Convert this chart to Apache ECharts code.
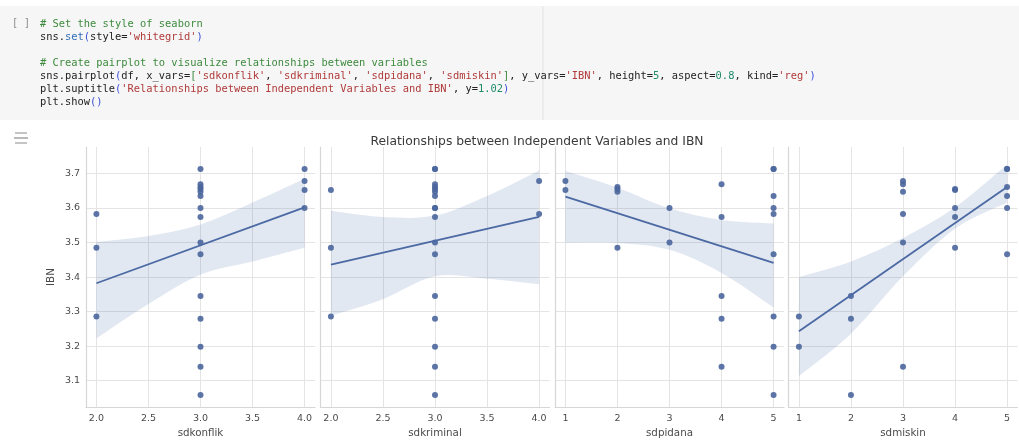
<!DOCTYPE html>
<html>
<head>
<meta charset="utf-8">
<script src="https://cdn.jsdelivr.net/npm/echarts@6/dist/echarts.min.js"></script>
<style>
  html, body { margin: 0; padding: 0; background: #ffffff; }
  #main { width: 1019px; height: 443px; }
</style>
</head>
<body>
<div id="main"></div>
<script>
// ---------------- data ----------------
const ibn        = [3.713, 3.713, 3.678, 3.669, 3.661, 3.655, 3.652, 3.647, 3.635, 3.600, 3.600,
                    3.583, 3.574, 3.500, 3.485, 3.466, 3.345, 3.286, 3.279, 3.198, 3.140, 3.058];
const sdkonflik  = [3, 4, 4, 3, 3, 3, 4, 3, 3, 4, 3, 2, 3, 3, 2, 3, 3, 2, 3, 3, 3, 3];
const sdkriminal = [3, 3, 4, 3, 3, 3, 2, 3, 3, 3, 3, 4, 3, 3, 2, 3, 3, 2, 3, 3, 3, 3];
const sdpidana   = [5, 5, 1, 4, 2, 2, 1, 2, 5, 3, 5, 5, 4, 3, 2, 5, 4, 5, 4, 5, 4, 5];
const sdmiskin   = [5, 5, 3, 3, 5, 4, 4, 3, 5, 4, 5, 3, 4, 3, 4, 5, 2, 1, 2, 1, 3, 2];

const varNames = ['sdkonflik', 'sdkriminal', 'sdpidana', 'sdmiskin'];
const yName = 'IBN';
const titleText = 'Relationships between Independent Variables and IBN';

// tick labels
const xTicksA = [2.0, 2.5, 3.0, 3.5, 4.0];
const xTicksB = [1, 2, 3, 4, 5];
const yTicks  = [3.1, 3.2, 3.3, 3.4, 3.5, 3.6, 3.7];

// regression lines (end points)
const regKonflik  = [[2, 3.382], [4, 3.602]];
const regKriminal = [[2, 3.436], [4, 3.574]];
const regPidana   = [[1, 3.633], [5, 3.441]];
const regMiskin   = [[1, 3.243], [5, 3.661]];

// confidence bands
const bandXA = [2, 2.5, 3, 3.5, 4];
const bandXB = [1, 2, 3, 4, 5];
const bandKonflikUp  = [3.502, 3.519, 3.552, 3.616, 3.685];
const bandKonflikLo  = [3.222, 3.322, 3.407, 3.445, 3.485];
const bandKriminalUp = [3.592, 3.574, 3.578, 3.635, 3.709];
const bandKriminalLo = [3.288, 3.336, 3.402, 3.395, 3.379];
const bandPidanaUp   = [3.707, 3.659, 3.599, 3.565, 3.555];
const bandPidanaLo   = [3.500, 3.499, 3.479, 3.412, 3.312];
const bandMiskinUp   = [3.400, 3.445, 3.513, 3.602, 3.726];
const bandMiskinLo   = [3.113, 3.236, 3.402, 3.540, 3.616];

// ---------------- build ----------------
const xVals = [sdkonflik, sdkriminal, sdpidana, sdmiskin];
const regs = [regKonflik, regKriminal, regPidana, regMiskin];
const bandX = [bandXA, bandXA, bandXB, bandXB];
const bandUp = [bandKonflikUp, bandKriminalUp, bandPidanaUp, bandMiskinUp];
const bandLo = [bandKonflikLo, bandKriminalLo, bandPidanaLo, bandMiskinLo];
const xTicks = [xTicksA, xTicksA, xTicksB, xTicksB];
const xRange = [[1.9, 4.1], [1.9, 4.1], [0.8, 5.2], [0.8, 5.2]];
const yRange = [3.0232, 3.7768];

const BLUE = '#4c72b0';
const GRID = '#e4e4e4';
const SPINE = '#d6d6d6';
const TXT = '#4a4a4a';
const FONT = '"DejaVu Sans", sans-serif';

// Catmull-Rom curve through pixel points -> SVG path segments
function curveSegs(p) {
  let s = '';
  for (let i = 0; i < p.length - 1; i++) {
    const p0 = p[Math.max(i - 1, 0)], p1 = p[i], p2 = p[i + 1], p3 = p[Math.min(i + 2, p.length - 1)];
    const c1 = [p1[0] + (p2[0] - p0[0]) / 6, p1[1] + (p2[1] - p0[1]) / 6];
    const c2 = [p2[0] - (p3[0] - p1[0]) / 6, p2[1] - (p3[1] - p1[1]) / 6];
    s += ' C' + c1[0] + ' ' + c1[1] + ' ' + c2[0] + ' ' + c2[1] + ' ' + p2[0] + ' ' + p2[1];
  }
  return s;
}
function bandRenderer(panel) {
  return function (params, api) {
    const up = bandX[panel].map((x, k) => api.coord([x, bandUp[panel][k]]));
    const lo = bandX[panel].map((x, k) => api.coord([x, bandLo[panel][k]])).reverse();
    const d = 'M' + up[0][0] + ' ' + up[0][1] + curveSegs(up) +
              ' L' + lo[0][0] + ' ' + lo[0][1] + curveSegs(lo) + ' Z';
    return { type: 'path', shape: { pathData: d }, style: { fill: 'rgba(76,114,176,0.16)', stroke: null } };
  };
}

const grids = [], xAxes = [], yAxes = [], series = [];
const lefts = [86, 320.5, 555, 788.5];
for (let i = 0; i < 4; i++) {
  grids.push({ left: lefts[i], top: 147, width: 229, height: 265, containLabel: false });
  const dec = i < 2;
  xAxes.push({
    type: 'value', gridIndex: i, min: xRange[i][0], max: xRange[i][1],
    name: varNames[i], nameLocation: 'middle', nameGap: 19,
    nameTextStyle: { fontFamily: FONT, fontSize: 10.3, color: TXT },
    axisLine: { show: true, lineStyle: { color: SPINE, width: 1.2 } },
    axisTick: { show: false, customValues: xTicks[i] },
    axisLabel: { customValues: xTicks[i], margin: 6, fontFamily: FONT, fontSize: 9.5, color: TXT,
                 formatter: v => dec ? Number(v).toFixed(1) : String(Math.round(v)) },
    splitLine: { show: true, lineStyle: { color: GRID, width: 1 } }
  });
  yAxes.push({
    type: 'value', gridIndex: i, min: yRange[0], max: yRange[1],
    name: i === 0 ? yName : '', nameLocation: 'middle', nameGap: 30, nameRotate: 90,
    nameTextStyle: { fontFamily: FONT, fontSize: 10.3, color: TXT },
    axisLine: { show: true, lineStyle: { color: SPINE, width: 1.2 } },
    axisTick: { show: false, customValues: yTicks },
    axisLabel: { show: i === 0, customValues: yTicks, margin: 6, fontFamily: FONT, fontSize: 9.5, color: TXT,
                 formatter: v => Number(v).toFixed(1) },
    splitLine: { show: true, lineStyle: { color: GRID, width: 1 } }
  });
  series.push({
    type: 'custom', xAxisIndex: i, yAxisIndex: i, silent: true, z: 1, clip: true,
    renderItem: bandRenderer(i),
    data: [[bandX[i][0], bandLo[i][0]]]
  });
  series.push({
    type: 'scatter', xAxisIndex: i, yAxisIndex: i, symbolSize: 6, z: 3,
    itemStyle: { color: '#4a669c', opacity: 0.9 },
    data: xVals[i].map((x, k) => [x, ibn[k]])
  });
  series.push({
    type: 'line', xAxisIndex: i, yAxisIndex: i, symbol: 'none', z: 4,
    lineStyle: { color: '#4b69a3', width: 1.8 },
    data: regs[i]
  });
}

// ---------------- notebook cell (code) ----------------
const codeLines = [
  [['cm', '# Set the style of seaborn']],
  [['tx', 'sns.'], ['fn', 'set'], ['p1', '('], ['tx', 'style='], ['st', "'whitegrid'"], ['p1', ')']],
  [],
  [['cm', '# Create pairplot to visualize relationships between variables']],
  [['tx', 'sns.pairplot'], ['p1', '('], ['tx', 'df, x_vars='], ['p2', '['], ['st', "'sdkonflik'"], ['tx', ', '],
   ['st', "'sdkriminal'"], ['tx', ', '], ['st', "'sdpidana'"], ['tx', ', '], ['st', "'sdmiskin'"], ['p2', ']'],
   ['tx', ', y_vars='], ['st', "'IBN'"], ['tx', ', height='], ['nm', '5'], ['tx', ', aspect='], ['nm', '0.8'],
   ['tx', ', kind='], ['st', "'reg'"], ['p1', ')']],
  [['tx', 'plt.suptitle'], ['p1', '('], ['st', "'Relationships between Independent Variables and IBN'"],
   ['tx', ', y='], ['nm', '1.02'], ['p1', ')']],
  [['tx', 'plt.show'], ['p1', '()']]
];
const MONO = '"DejaVu Sans Mono", monospace';
const CFS = 10.4;
const rich = {
  cm: { fontFamily: MONO, fontSize: CFS, fill: '#3d8a3d' },
  tx: { fontFamily: MONO, fontSize: CFS, fill: '#222222' },
  fn: { fontFamily: MONO, fontSize: CFS, fill: '#2f6db5' },
  st: { fontFamily: MONO, fontSize: CFS, fill: '#b03a3a' },
  nm: { fontFamily: MONO, fontSize: CFS, fill: '#1f8a6a' },
  p1: { fontFamily: MONO, fontSize: CFS, fill: '#3a50d8' },
  p2: { fontFamily: MONO, fontSize: CFS, fill: '#3d8a3d' }
};
const graphics = [
  { type: 'rect', shape: { x: 0, y: 6, width: 1019, height: 114 }, style: { fill: '#f6f6f6' }, z: 0 },
  { type: 'line', shape: { x1: 543, y1: 6, x2: 543, y2: 120 }, style: { stroke: '#e3e3e3', lineWidth: 1 }, z: 1 },
  { type: 'text', x: 12, y: 23, style: { text: '[ ]', fontFamily: MONO, fontSize: 10, fill: '#8a8a8a', verticalAlign: 'middle' }, z: 2 },
  // output-area icon
  { type: 'line', shape: { x1: 15, y1: 133, x2: 27, y2: 133 }, style: { stroke: '#8a8a8a', lineWidth: 1 }, z: 2 },
  { type: 'line', shape: { x1: 14, y1: 138, x2: 28, y2: 138 }, style: { stroke: '#8a8a8a', lineWidth: 1.2 }, z: 2 },
  { type: 'line', shape: { x1: 15, y1: 143, x2: 27, y2: 143 }, style: { stroke: '#8a8a8a', lineWidth: 1 }, z: 2 }
];
codeLines.forEach((toks, li) => {
  if (!toks.length) return;
  graphics.push({
    type: 'text', x: 40, y: 24 + li * 13, z: 2,
    style: { text: toks.map(t => '{' + t[0] + '|' + t[1] + '}').join(''), rich: rich, verticalAlign: 'middle' }
  });
});

const chart = echarts.init(document.getElementById('main'));
chart.setOption({
  backgroundColor: '#ffffff',
  animation: false,
  title: {
    text: titleText, left: 532, top: 131, textAlign: 'center',
    textStyle: { fontFamily: FONT, fontSize: 12.3, fontWeight: 'normal', color: '#3a3a3a' }
  },
  graphic: graphics,
  grid: grids,
  xAxis: xAxes,
  yAxis: yAxes,
  series: series
});
</script>
</body>
</html>
